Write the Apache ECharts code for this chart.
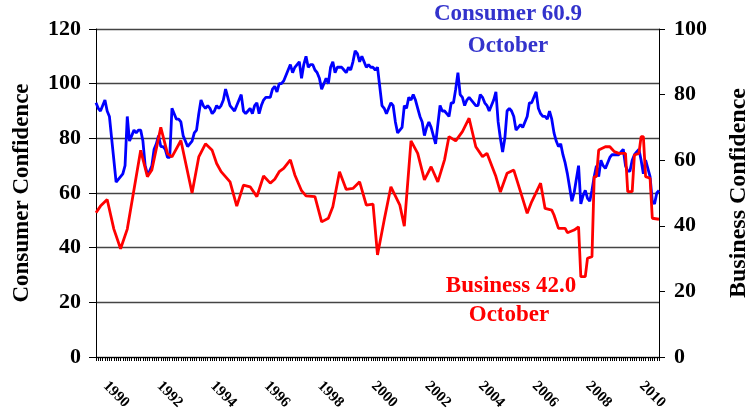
<!DOCTYPE html>
<html>
<head>
    <meta charset="UTF-8">
    <script src="https://cdn.jsdelivr.net/npm/echarts@6/dist/echarts.min.js"></script>
    <title>Consumer and Business Confidence</title>
</head>
<body style="margin:0;background:#fff;">
    <div id="box" style="width:748px;height:412px;"></div>
    <script>
        // months from Oct 1989 to Oct 2010
        var months = []
        for (var y = 1989, m = 10; y < 2010 || (y === 2010 && m <= 10);) {
            months.push(y + '-' + (m < 10 ? '0' + m : m))
            m++
            if (m > 12) { m = 1; y++ }
        }

        // consumer confidence, monthly (left axis)
        var consumer = [
            93, 91, 90,
            92, 94, 90, 88, 80, 72, 64, 65, 66, 67, 70, 88,
            79, 81, 83, 82, 83, 83, 79, 70, 67, 68, 70, 76,
            78, 81, 77, 77, 76, 73, 73, 91, 89, 87, 87, 86,
            81, 79, 77, 78, 79, 82, 83, 89, 94, 92, 91, 92,
            91, 89, 90, 92, 91, 92, 94, 98, 95, 92, 91, 90,
            92, 94, 96, 90, 89, 90, 91, 89, 92, 93, 89, 92,
            94, 95, 95, 95, 98, 99, 97, 100, 100, 101, 103, 105,
            107, 104, 106, 107, 108, 102, 107, 110, 106, 107, 107, 105,
            104, 102, 98, 100, 102, 100, 106, 108, 104, 106, 106, 106,
            105, 104, 106, 105, 108, 112, 111, 108, 110, 108, 106, 107,
            106, 106, 105, 106, 99, 92, 91, 89, 91, 93, 92, 86,
            82, 83, 84, 92, 91, 95, 94, 96, 94, 91, 88, 86,
            81, 84, 86, 84, 81, 78, 85, 92, 90, 90, 89, 88,
            93, 93, 98, 104, 96, 95, 92, 94, 95, 94, 93, 92,
            92, 96, 95, 93, 92, 90, 92, 94, 97, 86, 80, 75,
            80, 90, 91, 90, 88, 83, 84, 85, 84, 86, 88, 93,
            93, 95, 97, 91, 89, 88, 88, 87, 90, 87, 82, 79,
            77, 78, 74, 71, 67, 62, 57, 60, 65, 70, 56, 59,
            61, 58, 57, 61, 66, 70, 66, 72, 70, 69, 71, 73,
            74, 74, 74, 74, 75, 76, 70, 68, 68, 72, 74, 75,
            76, 72, 67, 72, 69, 66, 57, 56, 60, 60.9
        ]

        // business confidence (right axis), survey dates and values
        var businessDates = [
            '1989-10', '1989-12', '1990-03', '1990-06', '1990-09', '1990-12',
            '1991-06', '1991-09', '1991-11', '1992-03', '1992-06', '1992-08', '1992-12',
            '1993-05', '1993-08', '1993-11', '1994-02', '1994-04', '1994-06', '1994-10',
            '1995-01', '1995-04', '1995-07', '1995-10', '1996-01', '1996-04', '1996-06',
            '1996-08', '1996-10', '1997-01', '1997-03', '1997-06', '1997-08', '1997-12',
            '1998-03', '1998-06', '1998-08', '1998-11', '1999-02', '1999-05', '1999-08',
            '1999-11', '2000-02', '2000-04', '2000-07', '2000-10', '2001-02', '2001-04',
            '2001-07', '2001-10', '2002-01', '2002-04', '2002-07', '2002-10', '2002-12',
            '2003-03', '2003-06', '2003-09', '2003-12', '2004-03', '2004-05', '2004-09',
            '2004-11', '2005-02', '2005-05', '2005-08', '2005-11', '2006-01', '2006-05',
            '2006-07', '2006-10', '2006-11', '2007-01', '2007-04', '2007-05', '2007-08',
            '2007-10', '2007-11', '2008-01', '2008-02', '2008-04', '2008-05', '2008-06',
            '2008-07', '2008-10', '2008-12', '2009-02', '2009-04', '2009-07', '2009-08',
            '2009-10', '2009-11', '2010-01', '2010-02', '2010-03', '2010-04', '2010-06',
            '2010-07', '2010-10'
        ]
        var businessValues = [
            44, 46, 48, 39, 33, 39,
            63, 55, 57, 70, 62, 61, 66,
            50, 61, 65, 63, 59, 56.5, 53.4,
            46, 52.4, 51.9, 48.9, 55.2, 53, 54.2,
            56.5, 57.5, 60.1, 55.5, 50.7, 49.1, 48.9,
            41.2, 42.3, 45.8, 56.5, 51.1, 51.4, 53.4,
            46.3, 46.6, 31.1, 41.8, 51.9, 46.3, 39.9,
            65.9, 62.1, 54, 58, 53.4, 60.1, 67.2,
            65.9, 68.7, 72.8, 64.1, 61.1, 62.1, 55,
            50.3, 56, 57, 50.4, 43.8, 47.3, 53,
            45.3, 44.8, 43.3, 39.2, 39.2, 37.9, 38.7,
            39.7, 24.5, 24.5, 30.1, 30.6, 55, 55,
            63.1, 64.1, 64.1, 62.6, 62.1, 62.1, 50.4,
            50.4, 61.6, 62.1, 67.2, 67.2, 55, 54.5,
            42.3, 42.0
        ]

        var leftTicks = { min: 0, max: 120, interval: 20 }
        var rightTicks = { min: 0, max: 100, interval: 20 }

        var serif = 'Liberation Serif'
        var mychart = echarts.init(document.getElementById('box'))

        var option = {
            animation: false,
            grid: { left: 96, right: 89, top: 29, bottom: 55, outerBoundsMode: 'none' },
            xAxis: {
                type: 'category',
                data: months,
                boundaryGap: false,
                axisLine: { lineStyle: { color: '#000', width: 1 } },
                axisTick: { interval: 0, length: 4, lineStyle: { color: '#000' } },
                axisLabel: {
                    interval: function (idx, val) {
                        return val.slice(5) === '01' && (+val.slice(0, 4)) % 2 === 0
                    },
                    formatter: function (val) { return val.slice(0, 4) },
                    rotate: -45,
                    margin: 24,
                    padding: [0, 0, 0, 4],
                    color: '#000',
                    fontFamily: serif,
                    fontWeight: 'bold',
                    fontSize: 15
                }
            },
            yAxis: [{
                type: 'value',
                min: leftTicks.min,
                max: leftTicks.max,
                interval: leftTicks.interval,
                name: 'Consumer Confidence',
                nameLocation: 'middle',
                nameGap: 62,
                nameTextStyle: { color: '#000', fontFamily: serif, fontWeight: 'bold', fontSize: 23 },
                axisLine: { show: true, lineStyle: { color: '#000' } },
                axisTick: { show: true, length: 7, lineStyle: { color: '#000' } },
                axisLabel: { margin: 15, color: '#000', fontFamily: serif, fontWeight: 'bold', fontSize: 22 },
                splitLine: { show: true, lineStyle: { color: '#444', width: 1.3 } }
            }, {
                type: 'value',
                min: rightTicks.min,
                max: rightTicks.max,
                interval: rightTicks.interval,
                name: 'Business Confidence',
                nameLocation: 'middle',
                nameGap: 68,
                nameMoveOverlap: false,
                nameTextStyle: { color: '#000', fontFamily: serif, fontWeight: 'bold', fontSize: 24 },
                axisLine: { show: true, lineStyle: { color: '#000' } },
                axisTick: { show: true, length: 6, lineStyle: { color: '#000' } },
                axisLabel: { margin: 15, color: '#000', fontFamily: serif, fontWeight: 'bold', fontSize: 22 },
                splitLine: { show: false }
            }],
            graphic: [
                { type: 'text', x: 508, y: 3, style: { text: 'Consumer 60.9', fill: '#3333cc', font: 'bold 23px "Liberation Serif"', textAlign: 'center' } },
                { type: 'text', x: 508, y: 35, style: { text: 'October', fill: '#3333cc', font: 'bold 23px "Liberation Serif"', textAlign: 'center' } },
                { type: 'text', x: 511, y: 275, style: { text: 'Business 42.0', fill: '#ff0000', font: 'bold 23px "Liberation Serif"', textAlign: 'center' } },
                { type: 'text', x: 509, y: 304, style: { text: 'October', fill: '#ff0000', font: 'bold 23px "Liberation Serif"', textAlign: 'center' } }
            ],
            series: [{
                name: 'Consumer',
                type: 'line',
                data: consumer,
                yAxisIndex: 0,
                symbol: 'none',
                lineStyle: { color: '#0000ff', width: 2.8 }
            }, {
                name: 'Business',
                type: 'line',
                data: businessDates.map(function (d, k) { return [d, businessValues[k]] }),
                yAxisIndex: 1,
                symbol: 'none',
                lineStyle: { color: '#ff0000', width: 2.8 }
            }]
        }

        mychart.setOption(option)
    </script>
</body>
</html>
